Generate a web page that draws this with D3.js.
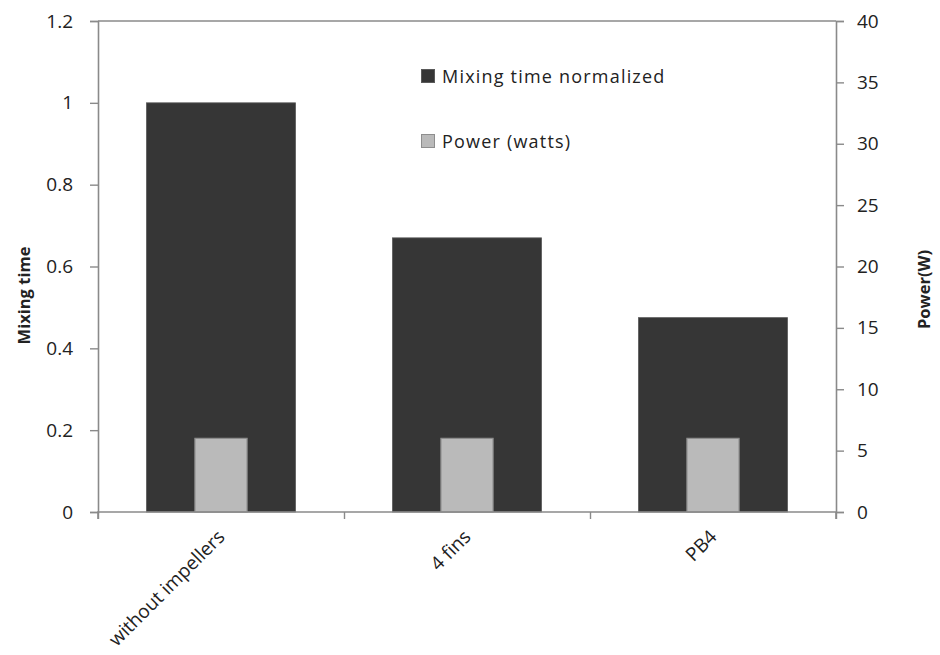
<!DOCTYPE html>
<html>
<head>
<meta charset="utf-8">
<script src="https://cdn.jsdelivr.net/npm/d3@7"></script>
<style>
  html, body { margin: 0; padding: 0; background: #fff; }
  svg { display: block; }
  text { font-family: "Open Sans", "DejaVu Sans", sans-serif; fill: #222; }
</style>
</head>
<body>
<svg id="chart" width="940" height="655"></svg>
<script>
// ---- data ----
const categories = ["without impellers", "4 fins", "PB4"];
const mixingTime = [1.0, 0.67, 0.475];
const powerWatts = [6, 6, 6];
const leftTicks = [0, 0.2, 0.4, 0.6, 0.8, 1, 1.2];
const rightTicks = [0, 5, 10, 15, 20, 25, 30, 35, 40];
const seriesNames = ["Mixing time normalized", "Power (watts)"];
const leftTitle = "Mixing time";
const rightTitle = "Power(W)";

// ---- layout ----
const svg = d3.select("#chart");
const plot = { left: 98, right: 836, top: 21, bottom: 512 };
const darkColor = "#363636";
const lightColor = "#bababa";
const axisColor = "#8a8a8a";

const x = d3.scaleBand().domain(categories).range([plot.left, plot.right]);
const yL = d3.scaleLinear().domain([0, 1.2]).range([plot.bottom, plot.top]);
const yR = d3.scaleLinear().domain([0, 40]).range([plot.bottom, plot.top]);

const darkW = x.bandwidth() * 0.606;
const lightW = x.bandwidth() * 0.212;

// bars: mixing time (left axis)
svg.append("g").selectAll("rect").data(categories).join("rect")
  .attr("x", d => x(d) + x.bandwidth() / 2 - darkW / 2)
  .attr("y", (d, i) => yL(mixingTime[i]))
  .attr("width", darkW)
  .attr("height", (d, i) => yL(0) - yL(mixingTime[i]))
  .attr("fill", darkColor)
  .attr("stroke", "#5a5a5a").attr("stroke-width", 0.8);

// bars: power (right axis)
svg.append("g").selectAll("rect").data(categories).join("rect")
  .attr("x", d => x(d) + x.bandwidth() / 2 - lightW / 2)
  .attr("y", (d, i) => yR(powerWatts[i]))
  .attr("width", lightW)
  .attr("height", (d, i) => yR(0) - yR(powerWatts[i]))
  .attr("fill", lightColor)
  .attr("stroke", "#8e8e8e").attr("stroke-width", 1.2);

// frame (top border)
svg.append("line")
  .attr("x1", plot.left).attr("x2", plot.right)
  .attr("y1", plot.top).attr("y2", plot.top)
  .attr("stroke", axisColor).attr("stroke-width", 1.6);

// left axis
const gL = svg.append("g").attr("transform", `translate(${plot.left},0)`)
  .call(d3.axisLeft(yL).tickValues(leftTicks).tickSize(8).tickPadding(17)
    .tickFormat(d => d3.format("")(+d.toFixed(1))));
// right axis
const gR = svg.append("g").attr("transform", `translate(${plot.right},0)`)
  .call(d3.axisRight(yR).tickValues(rightTicks).tickSize(8).tickPadding(13));
// bottom axis (ticks at band edges)
const edgeScale = d3.scaleLinear().domain([0, categories.length]).range([plot.left, plot.right]);
const gB = svg.append("g").attr("transform", `translate(0,${plot.bottom})`)
  .call(d3.axisBottom(edgeScale).tickValues(d3.range(categories.length + 1)).tickSize(7).tickFormat(""));

[gL, gR, gB].forEach(g => {
  g.select(".domain").attr("stroke", axisColor).attr("stroke-width", 1.6);
  g.selectAll(".tick line").attr("stroke", axisColor).attr("stroke-width", 1.4);
  g.selectAll(".tick text").style("font-size", "19px").attr("fill", "#222")
    .style("font-family", '"Open Sans", sans-serif');
});
gB.select(".domain").attr("d", `M${plot.left},7V0H${plot.right}V7`);

// category labels, rotated
svg.append("g").selectAll("text").data(categories).join("text")
  .attr("transform", d => `translate(${x(d) + x.bandwidth() / 2 + 5},${plot.bottom + 26}) rotate(-45)`)
  .attr("text-anchor", "end")
  .style("font-size", "19px")
  .text(d => d);

// axis titles
svg.append("text")
  .attr("transform", `translate(30,${(plot.top + plot.bottom) / 2 + 29}) rotate(-90)`)
  .attr("text-anchor", "middle")
  .style("font-size", "16.5px").style("font-weight", "bold")
  .text(leftTitle);
svg.append("text")
  .attr("transform", `translate(930,${(plot.top + plot.bottom) / 2 + 23}) rotate(-90)`)
  .attr("text-anchor", "middle")
  .style("font-size", "16.5px").style("font-weight", "bold")
  .text(rightTitle);

// legend
const legend = svg.append("g");
const legendItems = [
  { name: seriesNames[0], fill: darkColor, stroke: "#5a5a5a", y: 69 },
  { name: seriesNames[1], fill: lightColor, stroke: "#8e8e8e", y: 134 }
];
legendItems.forEach(it => {
  legend.append("rect").attr("x", 421.5).attr("y", it.y + 0.5).attr("width", 13).attr("height", 13)
    .attr("fill", it.fill).attr("stroke", it.stroke).attr("stroke-width", 1);
  legend.append("text").attr("x", 442).attr("y", it.y + 14)
    .style("font-size", "18px").style("letter-spacing", "1.2px")
    .text(it.name);
});
</script>
</body>
</html>
